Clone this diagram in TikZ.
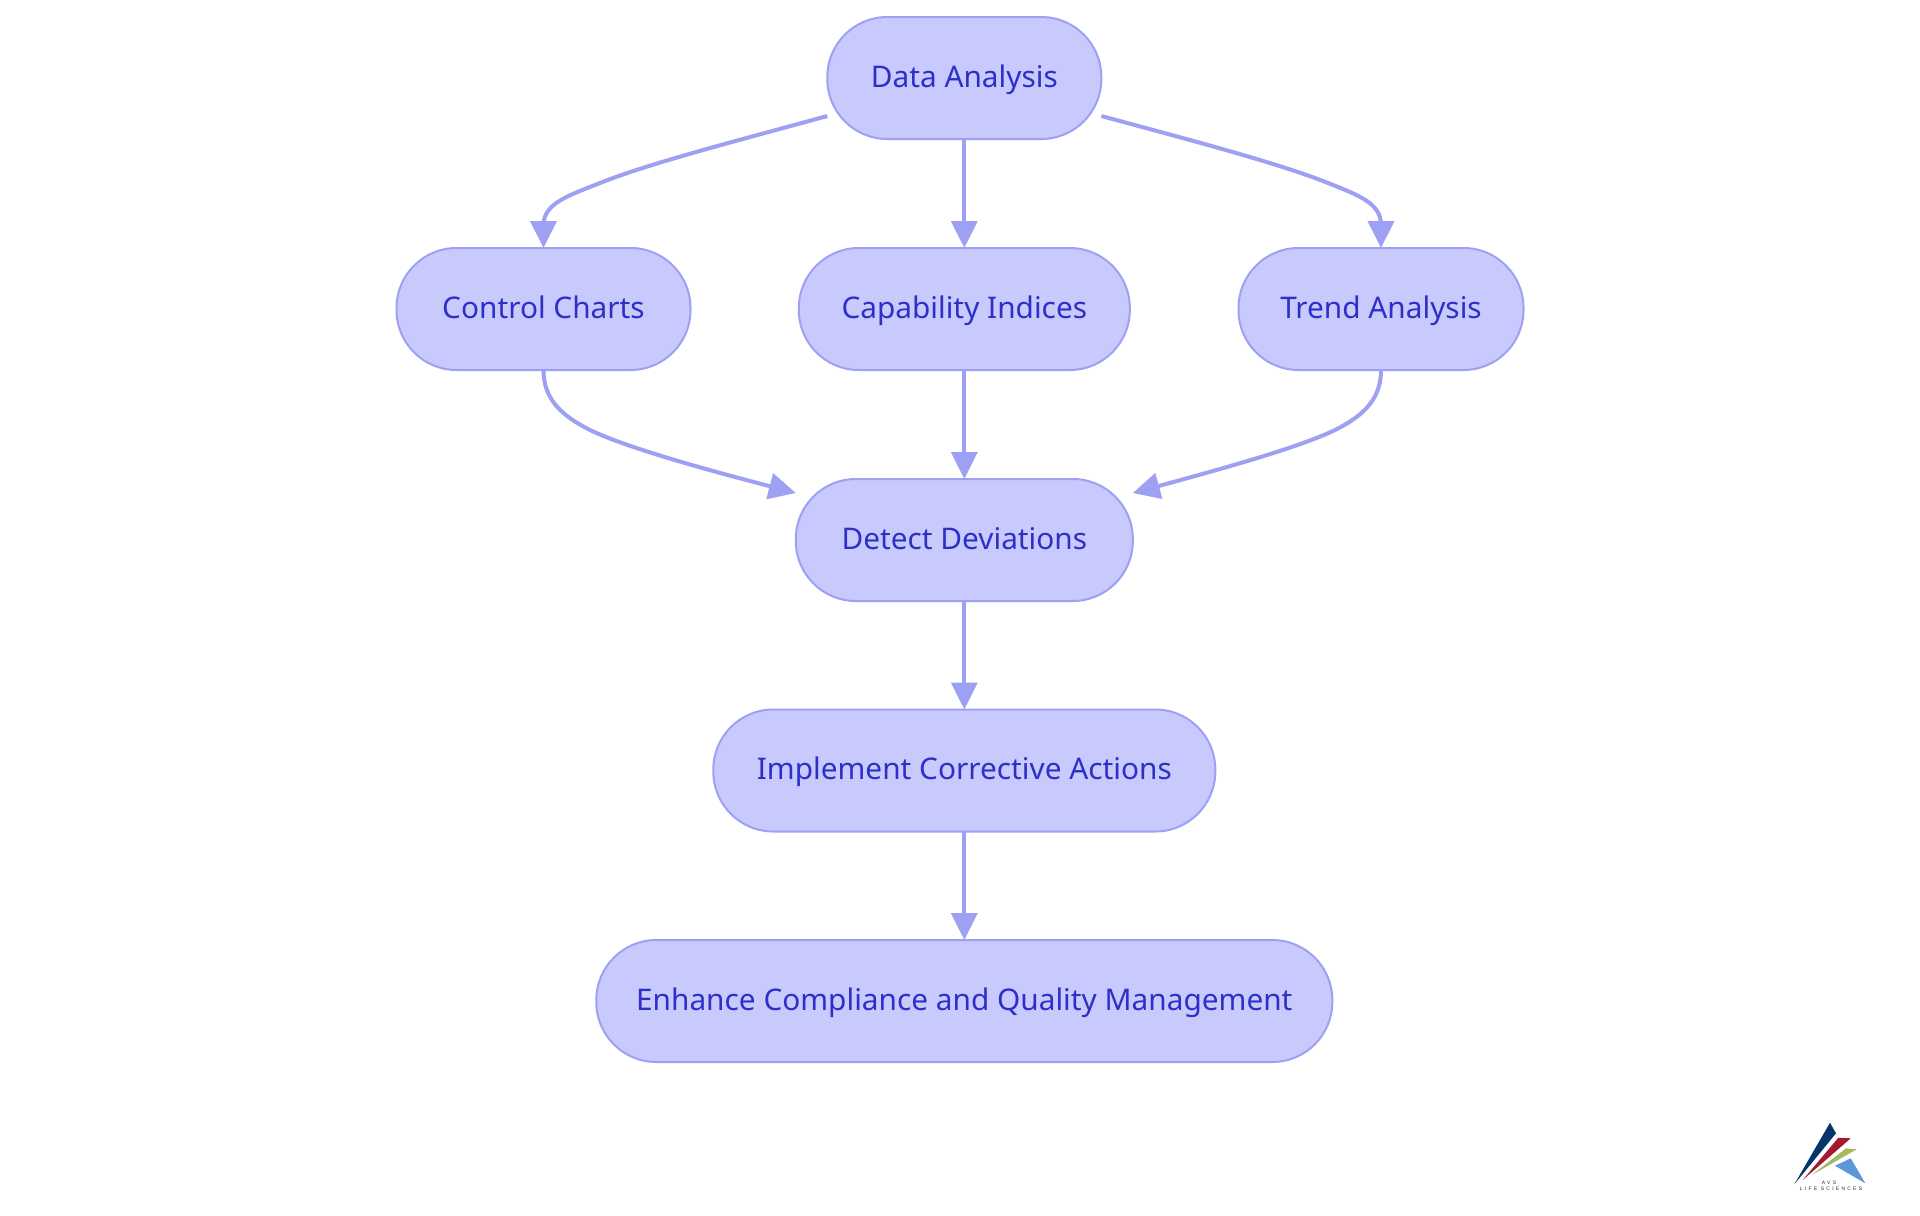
\documentclass[tikz,border=0pt]{standalone}
\usepackage{fontspec}
\setmainfont{Noto Sans}
\newfontfamily\logofont[LetterSpace=45]{Liberation Sans}
\usetikzlibrary{arrows.meta,calc}
\definecolor{nodefill}{RGB}{200,202,253}
\definecolor{edgecol}{RGB}{157,160,243}
\definecolor{textcol}{RGB}{44,48,200}
\definecolor{logoblue}{RGB}{5,53,107}
\definecolor{logored}{RGB}{165,25,48}
\definecolor{logogreen}{RGB}{165,185,95}
\definecolor{logosky}{RGB}{90,152,216}
\definecolor{logotext}{RGB}{40,40,50}
\tikzset{
  flownode/.style={draw=edgecol,fill=nodefill,line width=1pt,text=textcol,inner sep=0pt,outer sep=0pt,
    rounded corners=30pt,minimum height=61pt,font=\fontsize{14.9}{17}\selectfont,
    text height=12.5pt,text depth=3.5pt},
  flowedge/.style={draw=edgecol,line width=2pt,-{Triangle[length=13.5pt,width=13pt]}},
  logoshape/.style={draw=none},
  logolabel/.style={text=logotext,inner sep=0pt,font=\logofont\fontsize{2.5}{3}\selectfont}
}
\begin{document}
\begin{tikzpicture}[x=0.5pt,y=-0.5pt]
\useasboundingbox (0,0) rectangle (1920,1215);
\fill[white] (0,0) rectangle (1920,1215);
\node[flownode,minimum width=137pt] (da) at (964.3,78) {Data Analysis};
\node[flownode,minimum width=147pt] (cc) at (543.5,309) {Control Charts};
\node[flownode,minimum width=165.5pt] (ci) at (964.3,309) {Capability Indices};
\node[flownode,minimum width=142.5pt] (ta) at (1381,309) {Trend Analysis};
\node[flownode,minimum width=168.5pt] (dd) at (964.3,540) {Detect Deviations};
\node[flownode,minimum width=251pt] (ic) at (964.3,770.5) {Implement Corrective Actions};
\node[flownode,minimum width=368pt] (ec) at (964.3,1001) {Enhance Compliance and Quality Management};
\coordinate (dal) at ($(da.west)+(0,38)$);
\coordinate (dar) at ($(da.east)+(0,38)$);
\coordinate (ddl) at ($(dd.west)+(0,-47)$);
\coordinate (ddr) at ($(dd.east)+(0,-47)$);
\draw[flowedge] (dal) .. controls (740,140) and (650,163) .. (600,183) .. controls (570,195) and (cc.north |- 0,203) .. (cc.north |- 0,225) -- (cc.north);
\draw[flowedge] (dar) .. controls (1190,140) and (1278,163) .. (1328,183) .. controls (1358,195) and (ta.north |- 0,203) .. (ta.north |- 0,225) -- (ta.north);
\draw[flowedge] (da.south) -- (ci.north);
\draw[flowedge] (cc.south) .. controls (cc.south |- 0,398) and (560,415) .. (590,430) .. controls (625,447) and (700,468) .. (ddl);
\draw[flowedge] (ci.south) -- (dd.north);
\draw[flowedge] (ta.south) .. controls (ta.south |- 0,398) and (1365,415) .. (1335,430) .. controls (1300,447) and (1225,468) .. (ddr);
\draw[flowedge] (dd.south) -- (ic.north);
\draw[flowedge] (ic.south) -- (ec.north);
% logo
\fill[logoblue,logoshape] (1794.3,1184.3) -- (1830,1122.7) -- (1836,1133.3) -- cycle;
\fill[logored,logoshape] (1802.7,1180) -- (1838.3,1137.7) -- (1850.7,1138.3) -- cycle;
\fill[logogreen,logoshape] (1811.7,1175) -- (1846,1148.3) -- (1856.7,1149.3) -- cycle;
\fill[logosky,logoshape] (1835,1165.7) -- (1850.7,1158.3) -- (1865.3,1183.3) -- cycle;
\node[logolabel] (logoa) at (1829,1182.5) {AVS};
\node[logolabel] (logob) at (1831,1189) {LIFE SCIENCES};
\end{tikzpicture}
\end{document}
